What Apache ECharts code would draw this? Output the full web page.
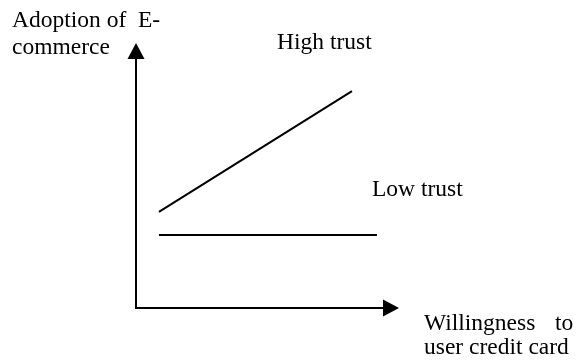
<html>
<head>
    <meta charset="UTF-8">
    <title>Trust and e-commerce adoption</title>
    <script src="https://cdn.jsdelivr.net/npm/echarts@6/dist/echarts.min.js"></script>
    <style>
        body { margin: 0; background: #fff; }
        #chart { width: 576px; height: 360px; }
    </style>
</head>
<body>
    <div id="chart"></div>
    <script>
        // conceptual chart, axes run 0..100 with no ticks
        var highTrustX = [9, 84.7];
        var highTrustY = [37.4, 84.4];
        var lowTrustX = [9, 94.5];
        var lowTrustY = [28.4, 28.4];
        var yName = ['Adoption of  E-', 'commerce'];
        var xName = ['Willingness', 'to', 'user credit card'];
        var seriesNames = ['High trust', 'Low trust'];

        function pairs(xs, ys) {
            var out = [];
            for (var i = 0; i < xs.length; i++) out.push([xs[i], ys[i]]);
            return out;
        }

        var font = '23.5px "Liberation Serif", "Times New Roman", serif';
        function txt(s, x, y) {
            return {
                type: 'text', x: x, y: y,
                style: { text: s, font: font, fill: '#000', verticalAlign: 'middle' }
            };
        }

        var axisCommon = {
            type: 'value', min: 0, max: 100,
            axisLine: {
                show: true, onZero: true,
                symbol: ['none', 'triangle'],
                symbolSize: [17, 16],
                lineStyle: { color: '#000', width: 2 }
            },
            axisTick: { show: false },
            axisLabel: { show: false },
            splitLine: { show: false }
        };

        var chart = echarts.init(document.getElementById('chart'), null, { renderer: 'canvas' });
        chart.setOption({
            animation: false,
            backgroundColor: '#fff',
            grid: { left: 136, right: 185, top: 51, bottom: 52 },
            xAxis: axisCommon,
            yAxis: axisCommon,
            series: [
                {
                    name: seriesNames[0], type: 'line', data: pairs(highTrustX, highTrustY),
                    showSymbol: false, lineStyle: { color: '#000', width: 2 }
                },
                {
                    name: seriesNames[1], type: 'line', data: pairs(lowTrustX, lowTrustY),
                    showSymbol: false, lineStyle: { color: '#000', width: 2 }
                }
            ],
            graphic: [
                txt(yName[0], 12, 21),
                txt(yName[1], 12, 48),
                txt(seriesNames[0], 277, 43),
                txt(seriesNames[1], 372, 190),
                txt(xName[0], 424, 324),
                txt(xName[1], 555, 324),
                txt(xName[2], 424, 348)
            ]
        });
    </script>
</body>
</html>
